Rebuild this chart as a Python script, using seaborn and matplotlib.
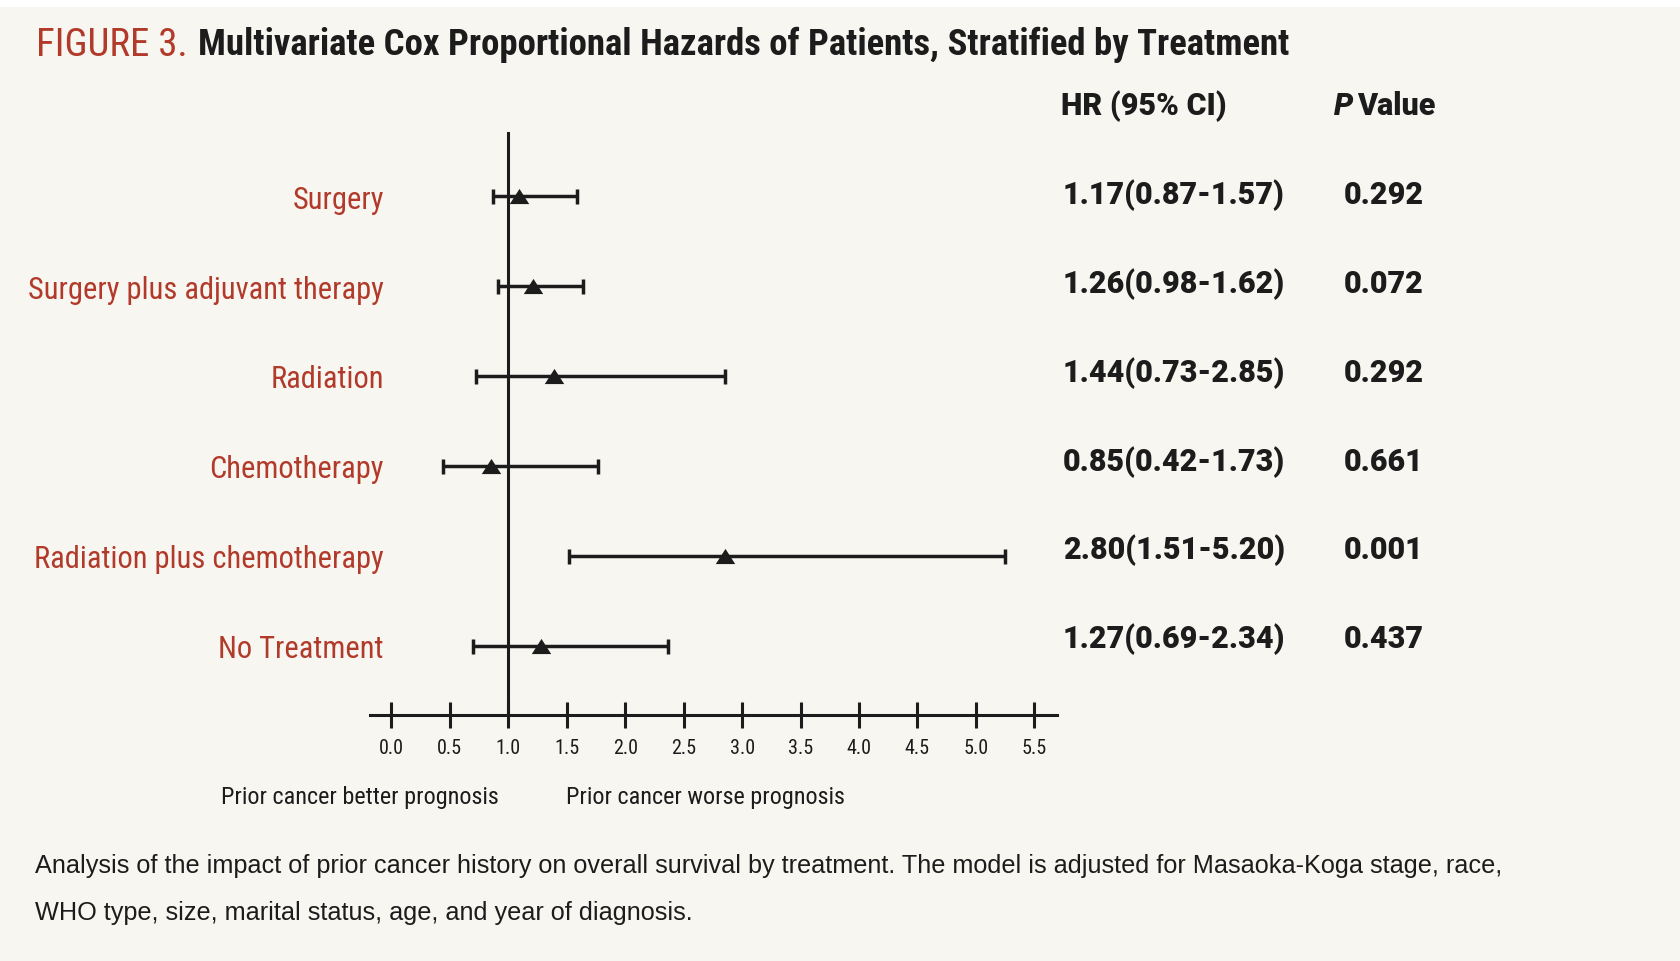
import numpy as np
import pandas as pd
import matplotlib
matplotlib.use("Agg")
import matplotlib.pyplot as plt
import seaborn as sns
from matplotlib import font_manager
from matplotlib.markers import MarkerStyle
from matplotlib.patches import Rectangle

# ---------------------------------------------------------
# data
# ---------------------------------------------------------
treatments = [
    "Surgery",
    "Surgery plus adjuvant therapy",
    "Radiation",
    "Chemotherapy",
    "Radiation plus chemotherapy",
    "No Treatment",
]
# marker / whisker positions as drawn in the plot
hr_point = [1.09, 1.21, 1.39, 0.85, 2.85, 1.28]
ci_low = [0.87, 0.91, 0.72, 0.44, 1.52, 0.70]
ci_high = [1.59, 1.64, 2.85, 1.77, 5.25, 2.37]
# printed table on the right
hr_text = ["1.17(0.87-1.57)", "1.26(0.98-1.62)", "1.44(0.73-2.85)",
           "0.85(0.42-1.73)", "2.80(1.51-5.20)", "1.27(0.69-2.34)"]
p_text = ["0.292", "0.072", "0.292", "0.661", "0.001", "0.437"]
x_ticks = [0.0, 0.5, 1.0, 1.5, 2.0, 2.5, 3.0, 3.5, 4.0, 4.5, 5.0, 5.5]

title_tag = "FIGURE 3."
title_text = "Multivariate Cox Proportional Hazards of Patients, Stratified by Treatment"
caption = [
    "Analysis of the impact of prior cancer history on overall survival by treatment. "
    "The model is adjusted for Masaoka-Koga stage, race,",
    "WHO type, size, marital status, age, and year of diagnosis.",
]

df = pd.DataFrame({"treatment": treatments, "hr": hr_point, "lo": ci_low, "hi": ci_high})

# ---------------------------------------------------------
# style
# ---------------------------------------------------------
BG = "#f7f6f1"
INK = "#1c1c1c"
RED = "#b23a2a"
W, H = 1680, 962

sns.set_style("white")
available = {f.name for f in font_manager.fontManager.ttflist}


def pick(*names):
    for n in names:
        if n in available:
            return n
    return "DejaVu Sans"


NARROW = pick("Liberation Sans Narrow", "DejaVu Sans Condensed", "Roboto Condensed", "Liberation Sans")
PLAIN = pick("Liberation Sans", "Roboto", "DejaVu Sans")
ROUND = pick("Roboto", "Lato", "DejaVu Sans")
plt.rcParams["font.family"] = [NARROW, "DejaVu Sans"]

fig = plt.figure(figsize=(W / 100, H / 100), dpi=100, facecolor="white")
fig.patches.append(Rectangle((0, 0), 1, 1 - 8 / H, transform=fig.transFigure,
                             facecolor=BG, edgecolor="none", zorder=-10))

ax = fig.add_axes([370 / W, 1 - 716 / H, 687 / W, (716 - 133) / H])
ax.set_facecolor("none")

# confidence intervals
ax.errorbar(df["hr"], df["treatment"],
            xerr=[df["hr"] - df["lo"], df["hi"] - df["hr"]],
            fmt="none", ecolor=INK, elinewidth=2.5, capsize=5.4, capthick=2.5, zorder=2)

# point estimates (flattened triangle)
tri = MarkerStyle([(-1, -0.78), (1, -0.78), (0, 0.78), (-1, -0.78)])
sns.scatterplot(data=df, x="hr", y="treatment", marker=tri, s=14 ** 2,
                color=INK, linewidth=0, zorder=3, ax=ax, legend=False)

# reference line at HR = 1
ax.axvline(1.0, color=INK, lw=2.2, zorder=1)

ax.set_xlim((370 - 391.4) / 116.9, (1057 - 391.4) / 116.9)
ax.set_ylim((716 - 197) / 90, (133 - 197) / 90)
ax.set_xticks(x_ticks)
ax.set_xticklabels([f"{t:.1f}" for t in x_ticks])
ax.set_xlabel("")
ax.set_ylabel("")

for side in ["top", "right", "left"]:
    ax.spines[side].set_visible(False)
ax.spines["bottom"].set_linewidth(2.2)
ax.spines["bottom"].set_color(INK)

ax.tick_params(axis="x", bottom=True, direction="inout", length=19, width=2.2, color=INK,
               pad=7, labelsize=14.5, labelcolor=INK)
ax.tick_params(axis="y", left=False, length=0, pad=-10, labelsize=22, labelcolor=RED)
ax.grid(False)

# ---------------------------------------------------------
# table on the right
# ---------------------------------------------------------
row_y = [195, 284, 373, 462, 550, 639]
hdr_y = 106
tbl_font = dict(fontsize=22, fontweight="heavy", family=[ROUND, "DejaVu Sans"],
                color=INK, va="center", ha="left")
fig.text(1061 / W, 1 - hdr_y / H, "HR (95% CI)", **tbl_font)
fig.text(1334 / W, 1 - hdr_y / H, "P", fontstyle="italic", **tbl_font)
fig.text(1357 / W, 1 - hdr_y / H, "Value", **tbl_font)
for y, hr_s, p_s in zip(row_y, hr_text, p_text):
    fig.text(1063 / W, 1 - y / H, hr_s, **tbl_font)
    fig.text(1344 / W, 1 - y / H, p_s, **tbl_font)

# direction labels under the axis
fig.text(360 / W, 1 - 798 / H, "Prior cancer better prognosis", fontsize=17.4,
         color=INK, ha="center", va="center")
fig.text(705 / W, 1 - 798 / H, "Prior cancer worse prognosis", fontsize=17.4,
         color=INK, ha="center", va="center")

# title
fig.text(36 / W, 1 - 45 / H, title_tag, fontsize=28, color=RED, ha="left", va="center")
fig.text(198 / W, 1 - 45 / H, title_text, fontsize=26.5, fontweight="bold",
         color=INK, ha="left", va="center")

# caption
for y, line in zip([866, 913], caption):
    fig.text(35 / W, 1 - y / H, line, fontsize=18.2, family=[PLAIN, "DejaVu Sans"],
             color=INK, ha="left", va="center")

fig.savefig("out.png", dpi=100, facecolor=fig.get_facecolor())
